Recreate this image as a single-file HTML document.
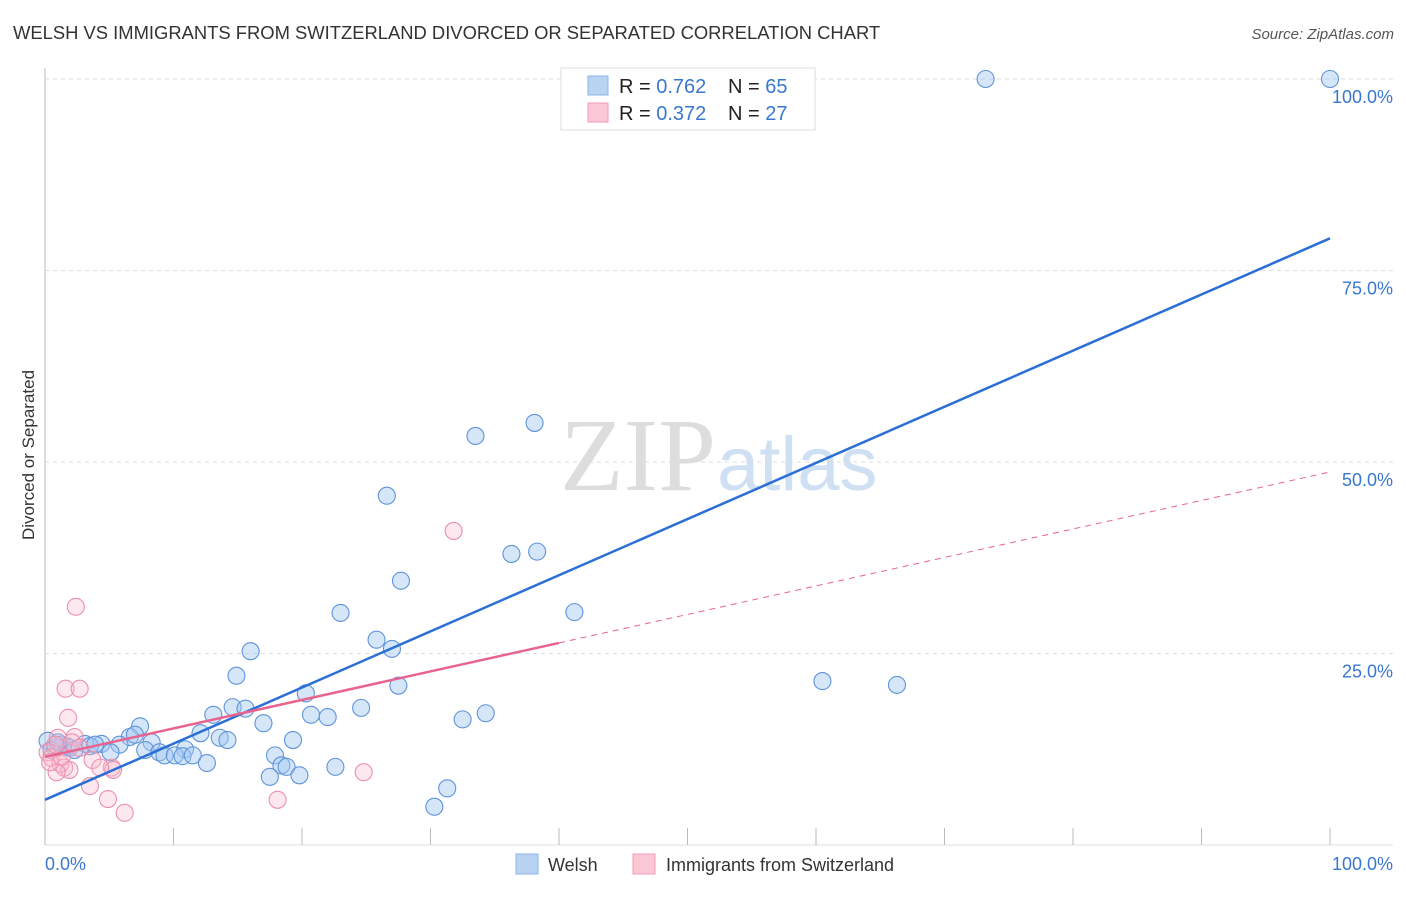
<!DOCTYPE html>
<html><head><meta charset="utf-8"><style>
body{margin:0;background:#fff;font-family:"Liberation Sans",sans-serif}
</style></head><body>
<svg id="c" width="1406" height="892" xmlns="http://www.w3.org/2000/svg">
<text x="13" y="39" font-size="18.4" fill="#333">WELSH VS IMMIGRANTS FROM SWITZERLAND DIVORCED OR SEPARATED CORRELATION CHART</text>
<text x="1394" y="39" font-size="15" fill="#555" font-style="italic" text-anchor="end">Source: ZipAtlas.com</text>
<text x="716" y="490" font-size="104" fill="#ddd" font-family="Liberation Serif,serif" text-anchor="end">ZIP</text>
<text x="717" y="490" font-size="76" fill="#cfe0f3">atlas</text>
<text transform="translate(34,455) rotate(-90)" font-size="17" fill="#333" text-anchor="middle">Divorced or Separated</text>
<g id="grid"></g><g id="marks"></g>
<g>
<rect x="561" y="68" width="254" height="62" fill="#fff" stroke="#ddd"/>
<rect x="588" y="76" width="20" height="19" fill="#b9d3f3" stroke="#8ab4e6"/>
<rect x="588" y="103" width="20" height="19" fill="#fbc8d6" stroke="#f09ab3"/>
<text x="619" y="93" font-size="20" fill="#222">R = <tspan fill="#3a78d0">0.762</tspan></text>
<text x="728" y="93" font-size="20" fill="#222">N = <tspan fill="#3a78d0">65</tspan></text>
<text x="619" y="120" font-size="20" fill="#222">R = <tspan fill="#3a78d0">0.372</tspan></text>
<text x="728" y="120" font-size="20" fill="#222">N = <tspan fill="#3a78d0">27</tspan></text>
</g>
<g>
<rect x="516" y="854" width="22" height="20" fill="#b9d3f3" stroke="#8ab4e6"/>
<text x="548" y="871" font-size="18" fill="#333">Welsh</text>
<rect x="633" y="854" width="22" height="20" fill="#fbc8d6" stroke="#f09ab3"/>
<text x="666" y="871" font-size="18" fill="#333">Immigrants from Switzerland</text>
</g>
</svg>
<script>
const blueX=[73.2,100,33.5,38.1,26.6,36.3,38.3,27.7,41.2,23.0,25.8,27.0,16.0,14.9,60.5,66.3,20.3,27.5,14.6,15.6,13.1,20.7,22.0,24.6,32.5,34.3,17.0,7.4,12.1,13.6,14.2,19.3,6.6,7.0,8.3,5.8,4.4,3.1,3.5,1.3,1.7,0.2,0.8,7.8,8.9,10.9,9.3,10.1,10.7,11.5,5.1,17.9,18.4,18.8,12.6,17.5,19.8,22.6,31.3,30.3,1.9,2.3,0.5,1.0,3.9];
const blueY=[100,100,53.4,55.1,45.6,38.0,38.3,34.5,30.4,30.3,26.8,25.6,25.3,22.1,21.4,20.9,19.8,20.8,18.0,17.8,17.0,17.0,16.7,17.9,16.4,17.2,15.9,15.5,14.6,14.0,13.7,13.7,14.1,14.4,13.4,13.1,13.2,13.2,12.9,13.1,12.9,13.6,12.7,12.4,12.1,12.5,11.7,11.7,11.6,11.7,12.1,11.7,10.4,10.2,10.7,8.9,9.1,10.2,7.4,5.0,12.7,12.4,12.4,13.4,13.1];
const pinkX=[2.4,31.8,1.6,2.7,1.8,2.3,1.0,2.1,0.2,0.5,1.2,1.5,1.9,0.9,3.7,5.2,5.3,3.5,4.9,6.2,18.1,24.8,0.4,2.7,1.3,4.3,0.8];
const pinkY=[31.1,41.0,20.4,20.4,16.6,14.1,14.0,13.4,12.1,11.4,10.6,10.1,9.8,9.5,11.1,10.1,9.8,7.7,6.0,4.2,5.9,9.5,10.8,12.7,11.5,10.1,13.1];
const blueTrend=[5.9,79.2];
const pinkTrend=[11.5,48.7];
const pinkSolidEnd=40;
const yTicks=[25,50,75,100];
const yTickLabels=["25.0%","50.0%","75.0%","100.0%"];
const xTicks=[0,10,20,30,40,50,60,70,80,90,100];
const NS="http://www.w3.org/2000/svg";
const sx=v=>45+v*12.85, sy=v=>845-v*7.66;
function mk(p,t,a){const e=document.createElementNS(NS,t);for(const k in a)e.setAttribute(k,a[k]);p.appendChild(e);return e;}
const grid=document.getElementById('grid'),marks=document.getElementById('marks');
let ax=mk(grid,'line',{x1:45,y1:68,x2:45,y2:845,stroke:'#bbb'});


let bx=mk(grid,'line',{x1:45,y1:845,x2:1393,y2:845,stroke:'#ddd'});


yTicks.forEach((v,i)=>{
 const g=mk(grid,'line',{x1:45,x2:1393,y1:sy(v),y2:sy(v),stroke:'#ddd','stroke-dasharray':'4,4'});
 
 
 const t=mk(grid,'text',{x:1393,y:sy(v)+24,'text-anchor':'end','font-size':18,fill:'#3a78d0'});t.textContent=yTickLabels[i];
 
 
});
xTicks.forEach(v=>{
 const t=mk(grid,'line',{x1:sx(v),x2:sx(v),y1:828,y2:845,stroke:'#bbb'});
 
 
});
[[0,"0.0%",'start',45],[100,"100.0%",'end',1393]].forEach(a=>{
 const t=mk(grid,'text',{x:a[3],y:870,'text-anchor':a[2],'font-size':18,fill:'#3a78d0'});t.textContent=a[1];
 
 
});
blueX.forEach((x,i)=>{
 const c=mk(marks,'circle',{cx:sx(x),cy:sy(blueY[i]),r:8.5,fill:'rgba(165,200,242,0.45)',stroke:'#5e94da','stroke-width':1.1});
 
 
});
pinkX.forEach((x,i)=>{
 const c=mk(marks,'circle',{cx:sx(x),cy:sy(pinkY[i]),r:8.5,fill:'rgba(250,190,208,0.35)',stroke:'#ec90ab','stroke-width':1.1});
 
 
});
const py=x=>pinkTrend[0]+(pinkTrend[1]-pinkTrend[0])*x/100;
let l1=mk(marks,'line',{x1:sx(0),y1:sy(blueTrend[0]),x2:sx(100),y2:sy(blueTrend[1]),stroke:'#2a6fd6','stroke-width':2.5});


let l2=mk(marks,'line',{x1:sx(0),y1:sy(py(0)),x2:sx(pinkSolidEnd),y2:sy(py(pinkSolidEnd)),stroke:'#e8648f','stroke-width':2.5});


let l3=mk(marks,'line',{x1:sx(pinkSolidEnd),y1:sy(py(pinkSolidEnd)),x2:sx(100),y2:sy(py(100)),stroke:'#e8648f','stroke-width':1,'stroke-dasharray':'6,5'});


</script>
</body></html>
